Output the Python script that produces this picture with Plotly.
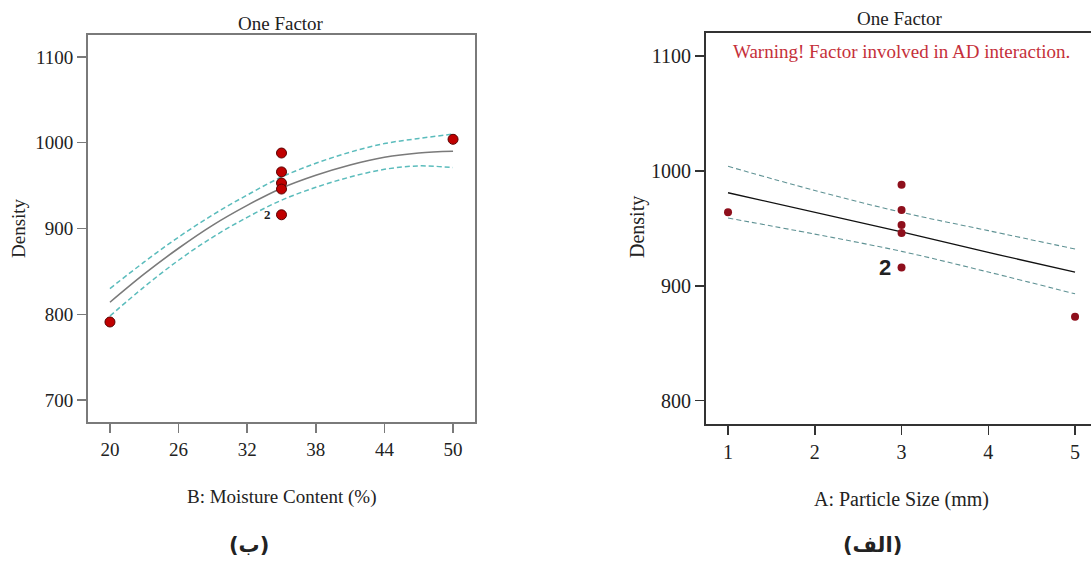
import plotly.graph_objects as go

W, H = 1091, 561

# ---------- Left chart (B: Moisture Content) ----------
b_pts_x = [20, 35, 35, 35, 35, 35, 50]
b_pts_y = [791, 988, 966, 953, 946, 916, 1004]
b_curve_x = [20, 23, 26, 29, 32, 35, 38, 41, 44, 47, 50]
b_fit = [814, 847, 877, 904, 927, 947, 962, 974, 983, 988, 990]
b_upper = [830, 861, 890, 916, 939, 960, 976, 989, 999, 1005, 1010]
b_lower = [798, 832, 863, 890, 913, 933, 948, 960, 969, 973, 971]
b_ticks = [20, 26, 32, 38, 44, 50]
b_yticks = [700, 800, 900, 1000, 1100]

# ---------- Right chart (A: Particle Size) ----------
a_pts_x = [1, 3, 3, 3, 3, 3, 5]
a_pts_y = [964, 988, 966, 953, 946, 916, 873]
a_curve_x = [1, 2, 3, 4, 5]
a_fit = [981, 964, 947, 929, 912]
a_upper = [1004, 983, 964, 948, 932]
a_lower = [959, 945, 930, 912, 893]
a_ticks = [1, 2, 3, 4, 5]
a_yticks = [800, 900, 1000, 1100]

SERIF = "Liberation Serif, Times New Roman, serif"

fig = go.Figure()

# Left chart traces
fig.add_trace(go.Scatter(x=b_curve_x, y=b_upper, mode="lines", line=dict(color="#5bbcbc", width=1.5, dash="5px,3px", shape="spline"), xaxis="x", yaxis="y", hoverinfo="skip"))
fig.add_trace(go.Scatter(x=b_curve_x, y=b_lower, mode="lines", line=dict(color="#5bbcbc", width=1.5, dash="5px,3px", shape="spline"), xaxis="x", yaxis="y", hoverinfo="skip"))
fig.add_trace(go.Scatter(x=b_curve_x, y=b_fit, mode="lines", line=dict(color="#7a7a7a", width=1.6, shape="spline"), xaxis="x", yaxis="y"))
fig.add_trace(go.Scatter(x=b_pts_x, y=b_pts_y, mode="markers", marker=dict(size=10, color="#c00000", line=dict(color="#5a0000", width=1)), xaxis="x", yaxis="y"))

# Right chart traces
fig.add_trace(go.Scatter(x=a_curve_x, y=a_upper, mode="lines", line=dict(color="#5f9294", width=1.1, dash="5px,3px", shape="spline"), xaxis="x2", yaxis="y2", hoverinfo="skip"))
fig.add_trace(go.Scatter(x=a_curve_x, y=a_lower, mode="lines", line=dict(color="#5f9294", width=1.1, dash="5px,3px", shape="spline"), xaxis="x2", yaxis="y2", hoverinfo="skip"))
fig.add_trace(go.Scatter(x=a_curve_x, y=a_fit, mode="lines", line=dict(color="#111111", width=1.3), xaxis="x2", yaxis="y2"))
fig.add_trace(go.Scatter(x=a_pts_x, y=a_pts_y, mode="markers", marker=dict(size=8, color="#8e0f1c", line=dict(width=0)), xaxis="x2", yaxis="y2"))

axis_common = dict(showgrid=False, zeroline=False, ticks="outside", ticklen=9, fixedrange=True)

fig.update_layout(
    width=W, height=H,
    margin=dict(l=0, r=0, t=0, b=0),
    paper_bgcolor="white", plot_bgcolor="white",
    showlegend=False,
    font=dict(family=SERIF, color="#222222", size=18),
    xaxis=dict(domain=[88 / W, 475 / W], range=[18.08, 51.92], tickvals=b_ticks,
               showline=True, linecolor="#7a7a7a", linewidth=2, mirror=True, tickcolor="#7a7a7a",
               tickwidth=1.5, anchor="y", tickfont=dict(size=19, family=SERIF), **axis_common),
    yaxis=dict(domain=[1 - 422 / H, 1 - 35 / H], range=[674.4, 1125.6], tickvals=b_yticks,
               showline=True, linecolor="#7a7a7a", linewidth=2, mirror=True, tickcolor="#7a7a7a",
               tickwidth=1.5, anchor="x", tickfont=dict(size=19, family=SERIF), **axis_common),
    xaxis2=dict(domain=[706 / W, 1.0], range=[0.746, 5.184], tickvals=a_ticks,
                showline=True, linecolor="#333333", linewidth=2, mirror=True, tickcolor="#333333",
                tickwidth=1.5, anchor="y2", tickfont=dict(size=20, family=SERIF), **axis_common),
    yaxis2=dict(domain=[1 - 424 / H, 1 - 33.3 / H], range=[779.7, 1119.8], tickvals=a_yticks,
                showline=True, linecolor="#333333", linewidth=2, mirror=False, tickcolor="#333333",
                tickwidth=1.5, anchor="x2", tickfont=dict(size=20, family=SERIF), **axis_common),
)

ann = []
def add(text, x, y, size, color="#222222", family=SERIF, angle=0, xanchor="center", yanchor="middle"):
    ann.append(dict(text=text, x=x / W, y=1 - y / H, xref="paper", yref="paper", showarrow=False,
                    font=dict(size=size, color=color, family=family), textangle=angle,
                    xanchor=xanchor, yanchor=yanchor))

add("One Factor", 281, 23, 19)
add("Density", 18, 228, 19, angle=-90)
add("B: Moisture Content (%)", 281, 497, 19)
add("<b>(ب)</b>", 249, 545, 21, family="DejaVu Sans")

add("One Factor", 900, 18, 19)
add("Density", 637, 227, 20, angle=-90)
add("A: Particle Size (mm)", 901, 499, 20)
add("<b>(الف)</b>", 872, 545, 21, family="DejaVu Sans")
add("Warning! Factor involved in AD interaction.", 901, 51, 19, color="#c5303a")

fig.update_layout(annotations=ann)

# point count labels, placed in data coordinates
fig.add_annotation(text="<b>2</b>", x=35, y=916, xref="x", yref="y", showarrow=False,
                   xshift=-14, font=dict(size=13, family=SERIF, color="#222222"))
fig.add_annotation(text="<b>2</b>", x=3, y=916, xref="x2", yref="y2", showarrow=False,
                   xshift=-17, font=dict(size=22, family="Liberation Sans, Arial, sans-serif", color="#222222"))

fig.write_html("out.html", config={"displayModeBar": False, "staticPlot": True},
               post_script="document.body.style.margin='0';document.body.style.overflow='hidden';")
